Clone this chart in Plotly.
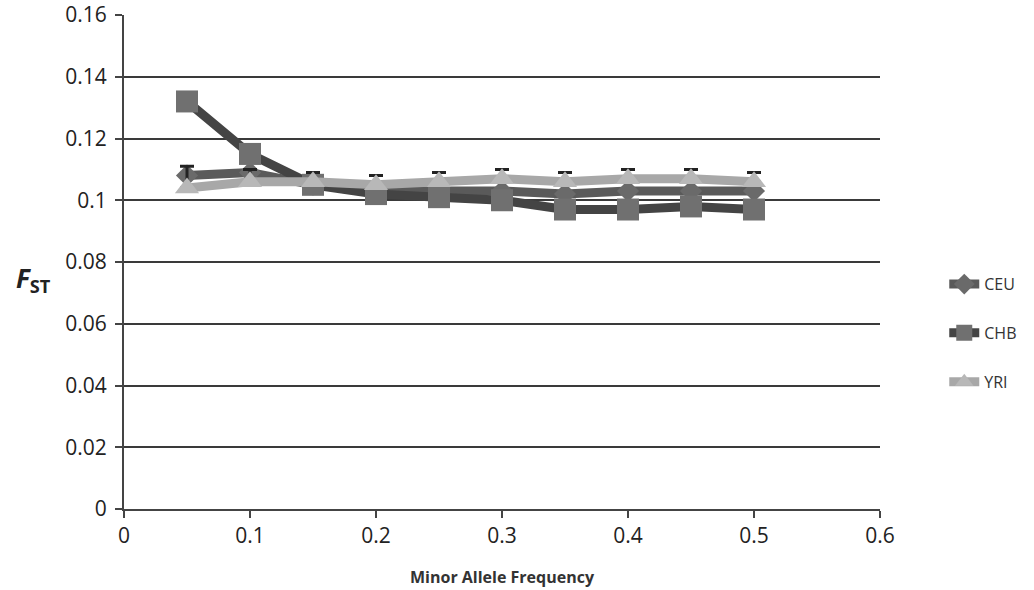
import plotly.graph_objects as go

maf = [0.05, 0.1, 0.15, 0.2, 0.25, 0.3, 0.35, 0.4, 0.45, 0.5]
ceu = [0.108, 0.109, 0.105, 0.103, 0.103, 0.103, 0.102, 0.103, 0.103, 0.103]
chb = [0.132, 0.115, 0.105, 0.102, 0.101, 0.100, 0.097, 0.097, 0.098, 0.097]
yri = [0.104, 0.106, 0.106, 0.105, 0.106, 0.107, 0.106, 0.107, 0.107, 0.106]
yri_err = [0.007, 0.004, 0.003, 0.003, 0.003, 0.003, 0.003, 0.003, 0.003, 0.003]

fig = go.Figure()
fig.add_trace(go.Scatter(
    x=maf, y=ceu, name="CEU", mode="lines+markers", legendgroup="a",
    line=dict(color="#5a5a5a", width=9),
    marker=dict(symbol="diamond", size=17, color="#6a6a6a")))
fig.add_trace(go.Scatter(
    x=maf, y=chb, name="CHB", mode="lines+markers", legendgroup="b",
    line=dict(color="#444444", width=9),
    marker=dict(symbol="square", size=22, color="#707070")))
fig.add_trace(go.Scatter(
    x=maf, y=yri, name="YRI", mode="lines+markers", legendgroup="c",
    line=dict(color="#a8a8a8", width=9),
    marker=dict(symbol="triangle-up", size=21, color="#b8b8b8"),
    error_y=dict(type="data", array=yri_err, arrayminus=[0]*len(maf),
                 color="#222222", thickness=3, width=7)))

font_family = "Open Sans, Liberation Sans, sans-serif"
tick_font = dict(family=font_family, size=21, color="#222222")
fig.update_layout(
    width=1034, height=590,
    margin=dict(l=124, r=154, t=15, b=81, autoexpand=False),
    paper_bgcolor="white", plot_bgcolor="white",
    font=dict(family=font_family, size=17, color="#222222"),
    showlegend=True,
    legend=dict(x=1.085, y=0.356, xanchor="left", yanchor="middle",
                font=dict(size=16, color="#333333"),
                tracegroupgap=25, traceorder="grouped",
                bgcolor="rgba(0,0,0,0)"),
    xaxis=dict(range=[0, 0.6], tickvals=[0, 0.1, 0.2, 0.3, 0.4, 0.5, 0.6],
               ticktext=["0", "0.1", "0.2", "0.3", "0.4", "0.5", "0.6"],
               tickfont=tick_font, automargin=False,
               showgrid=False, zeroline=False, showline=True,
               linecolor="#444444", linewidth=2,
               ticks="outside", ticklen=7, tickcolor="#444444", tickwidth=2,
               title=dict(text="<b>Minor Allele Frequency</b>",
                          font=dict(size=16, color="#333333"), standoff=24)),
    yaxis=dict(range=[0, 0.16], tickvals=[0, 0.02, 0.04, 0.06, 0.08, 0.1, 0.12, 0.14, 0.16],
               ticktext=["0", "0.02", "0.04", "0.06", "0.08", "0.1", "0.12", "0.14", "0.16"],
               tickfont=tick_font, automargin=False, ticklabelstandoff=4,
               showgrid=True, gridcolor="#3a3a3a", gridwidth=2,
               zeroline=False, showline=True, linecolor="#444444", linewidth=2,
               ticks="outside", ticklen=7, tickcolor="#444444", tickwidth=2),
)

fig.add_annotation(text="<b><i>F</i><sub>ST</sub></b>", xref="paper", yref="paper",
                   x=-0.12, y=0.465, showarrow=False, xanchor="center",
                   font=dict(size=26, color="#222222"))

fig.write_html("out.html")
